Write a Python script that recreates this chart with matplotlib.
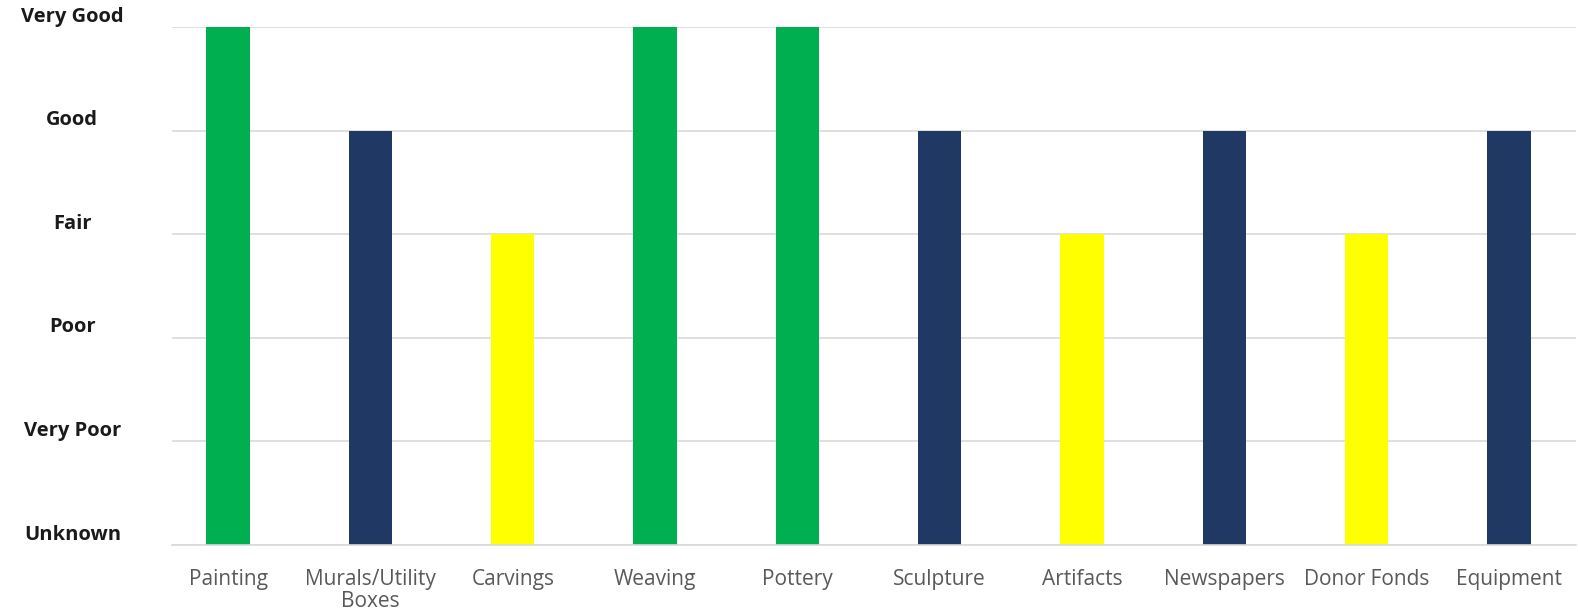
import matplotlib.pyplot as plt

categories = ['Painting', 'Murals/Utility\nBoxes', 'Carvings', 'Weaving', 'Pottery',
              'Sculpture', 'Artifacts', 'Newspapers', 'Donor Fonds', 'Equipment']
ratings = [5, 4, 3, 5, 5, 4, 3, 4, 3, 4]
levels = ['Unknown', 'Very Poor', 'Poor', 'Fair', 'Good', 'Very Good']

# colour by rating
colorMap = {5: '#00B050', 4: '#203864', 3: '#FFFF00'}
colors = [colorMap[r] for r in ratings]

fig = plt.figure(figsize=(15.78, 6.10), dpi=100)
ax = fig.add_axes([172 / 1578, 1 - 545 / 610, 1404 / 1578, 518 / 610])

x = list(range(len(categories)))
ax.bar(x, ratings, width=0.305, color=colors, zorder=2)

ax.set_xlim(-0.394, 9.47)
ax.set_ylim(0, 5)
ax.set_yticks(range(6))
ax.yaxis.grid(True, color='#d9d9d9', linewidth=1.2, zorder=0)
ax.tick_params(axis='y', length=0, labelleft=False)
ax.tick_params(axis='x', length=0, pad=17)
ax.set_xticks(x)
ax.set_xticklabels(categories, fontsize=15, color='#595959', family='Open Sans', linespacing=1.1)

for s in ['top', 'right', 'left']:
    ax.spines[s].set_visible(False)
ax.spines['bottom'].set_color('#d9d9d9')
ax.spines['bottom'].set_linewidth(1.2)

# level names sit a little above their gridlines
for i, lab in enumerate(levels):
    ax.text(-0.071, i + 0.1, lab, transform=ax.get_yaxis_transform(),
            ha='center', va='center', fontsize=14.5, fontweight='bold',
            family='Open Sans', color='#1a1a1a')

fig.savefig('out.png', dpi=100)
